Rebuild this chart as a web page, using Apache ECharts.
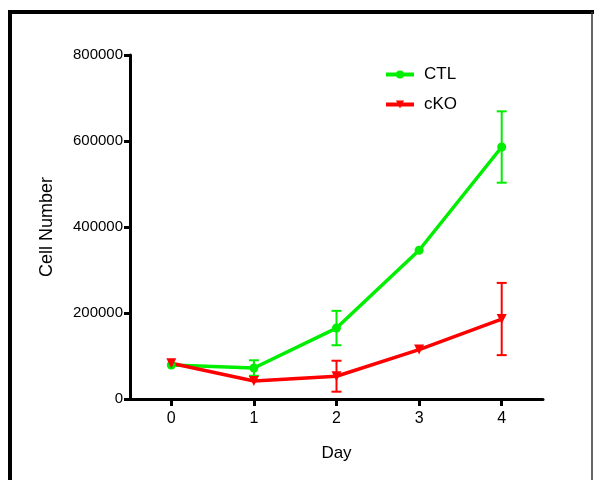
<!DOCTYPE html>
<html>
<head>
<meta charset="utf-8">
<script src="https://cdn.jsdelivr.net/npm/echarts@6/dist/echarts.min.js"></script>
<style>
  html, body { margin: 0; padding: 0; background: #fff; }
  #chart { width: 594px; height: 480px; }
</style>
</head>
<body>
<div id="chart"></div>
<script>
// days on the x axis
const days = [0, 1, 2, 3, 4];
const yTicks = [0, 200000, 400000, 600000, 800000];

// mean cell numbers
const ctlMean = [79000, 72000, 165000, 346000, 586000];
const ckoMean = [83000, 42000, 53000, 115000, 186000];

// error bar half-lengths
const ctlErr = [0, 18000, 40000, 0, 83000];
const ckoErr = [0, 0, 36000, 0, 84000];

const green = "#00ee00";
const red = "#ff0000";

function pairs(mean) {
  return days.map((d, i) => [d, mean[i]]);
}

function errData(mean, err) {
  return days.map((d, i) => [d, mean[i] - err[i], mean[i] + err[i], err[i]]);
}

function errSeries(name, mean, err, color) {
  return {
    type: "custom",
    name: name + " err",
    data: errData(mean, err),
    z: 3,
    silent: true,
    renderItem(params, api) {
      if (api.value(3) === 0) {
        return null;
      }
      const lo = api.coord([api.value(0), api.value(1)]);
      const hi = api.coord([api.value(0), api.value(2)]);
      const cap = 5;
      const style = { stroke: color, lineWidth: 2 };
      return {
        type: "group",
        children: [
          { type: "line", shape: { x1: lo[0], y1: lo[1], x2: hi[0], y2: hi[1] }, style },
          { type: "line", shape: { x1: lo[0] - cap, y1: lo[1], x2: lo[0] + cap, y2: lo[1] }, style },
          { type: "line", shape: { x1: hi[0] - cap, y1: hi[1], x2: hi[0] + cap, y2: hi[1] }, style },
        ],
      };
    },
  };
}

const chart = echarts.init(document.getElementById("chart"));
chart.setOption({
  animation: false,
  backgroundColor: "#fff",
  textStyle: { fontFamily: "Liberation Sans, Arial, sans-serif", color: "#000" },
  grid: { left: 130, right: 51, top: 55, bottom: 81 },
  legend: {
    orient: "vertical",
    left: 379,
    top: 61,
    itemWidth: 28,
    itemHeight: 10,
    itemGap: 13,
    lineStyle: { width: 4 },
    textStyle: { fontSize: 17, color: "#000", padding: [0, 0, 0, 5] },
    data: ["CTL", "cKO"],
  },
  xAxis: {
    type: "value",
    min: -0.5,
    max: 4.5,
    interval: 1,
    name: "Day",
    nameLocation: "middle",
    nameGap: 46,
    nameTextStyle: { fontSize: 17, color: "#000" },
    axisLine: { show: true, onZero: false, lineStyle: { color: "#000", width: 3 } },
    axisTick: {
      show: true,
      length: 7,
      lineStyle: { color: "#000", width: 3 },
      customValues: days,
    },
    axisLabel: {
      fontSize: 16,
      color: "#000",
      margin: 12,
      customValues: days,
    },
    splitLine: { show: false },
  },
  yAxis: {
    type: "value",
    min: 0,
    max: 800000,
    interval: 200000,
    name: "Cell Number",
    nameLocation: "middle",
    nameRotate: 90,
    nameGap: 74,
    nameTextStyle: { fontSize: 18, color: "#000" },
    axisLine: { show: true, onZero: false, lineStyle: { color: "#000", width: 3 } },
    axisTick: { show: true, length: 6, lineStyle: { color: "#000", width: 3 } },
    axisLabel: {
      fontSize: 15,
      color: "#000",
      margin: 7,
      formatter: (v) => (yTicks.includes(v) ? String(v) : ""),
    },
    splitLine: { show: false },
  },
  graphic: [
    { type: "line", shape: { x1: 10, y1: 12, x2: 10, y2: 480 }, style: { stroke: "#000", lineWidth: 4 } },
    { type: "line", shape: { x1: 8, y1: 12, x2: 594, y2: 12 }, style: { stroke: "#000", lineWidth: 4 } },
    { type: "line", shape: { x1: 592, y1: 12, x2: 592, y2: 480 }, style: { stroke: "#333", lineWidth: 1.5 } },
  ],
  series: [
    {
      name: "CTL",
      type: "line",
      data: pairs(ctlMean),
      symbol: "circle",
      symbolSize: 9,
      itemStyle: { color: green },
      lineStyle: { color: green, width: 3.5 },
      z: 4,
    },
    {
      name: "cKO",
      type: "line",
      data: pairs(ckoMean),
      symbol: "triangle",
      symbolRotate: 180,
      symbolSize: 10,
      itemStyle: { color: red },
      lineStyle: { color: red, width: 3.5 },
      z: 4,
    },
    errSeries("CTL", ctlMean, ctlErr, green),
    errSeries("cKO", ckoMean, ckoErr, red),
  ],
});
</script>
</body>
</html>
